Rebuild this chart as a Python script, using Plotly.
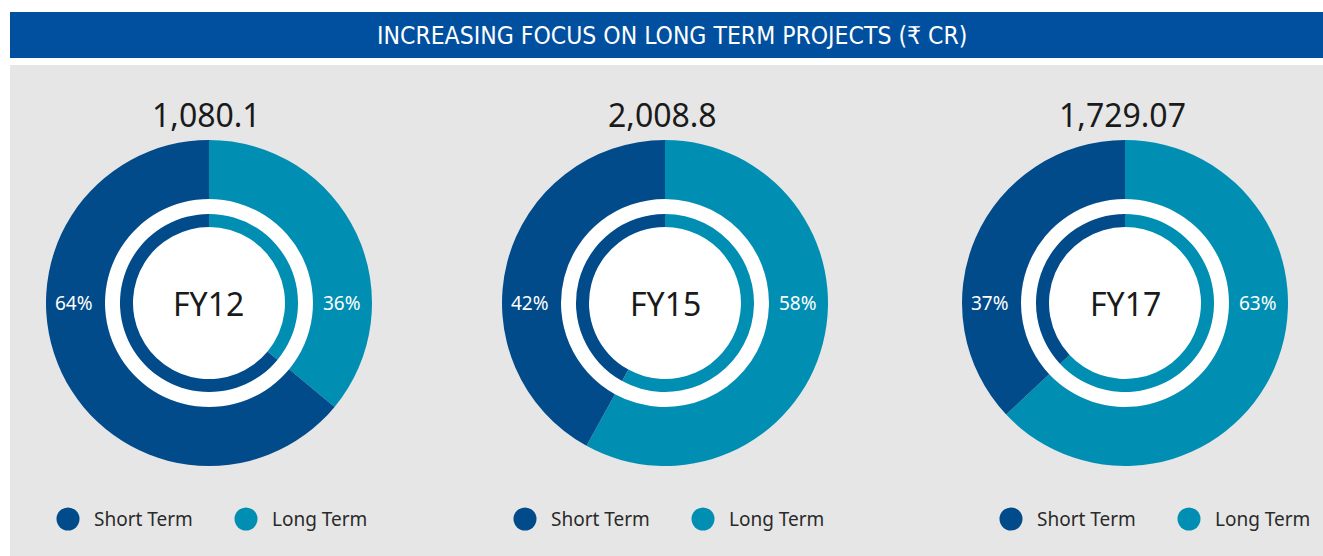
import plotly.graph_objects as go

# ---- data ----
years = ["FY12", "FY15", "FY17"]
totals = ["1,080.1", "2,008.8", "1,729.07"]
short_term = [64, 42, 37]
long_term = [36, 58, 63]
series_names = ["Long Term", "Short Term"]
title_text = "INCREASING FOCUS ON LONG TERM PROJECTS (₹ CR)"

# ---- styling ----
W, H = 1323, 556
DARK = "#014B8B"
TEAL = "#008FB2"
GRAY = "#E6E6E6"
BAR = "#00509F"
FONT = "Noto Sans"

centers_x = [209, 665, 1125]
legend_x = [68, 525, 1011]
cy = 303
R_OUT, R_HOLE = 163, 104
R_IN, R_IN_HOLE = 89, 76


def px(x):
    return x / W


def py(y):
    return 1 - y / H


fig = go.Figure()
shapes = []
annotations = []

# background panel and title bar
shapes.append(dict(type="rect", xref="paper", yref="paper", x0=px(10), x1=1, y0=0, y1=py(65),
                   fillcolor=GRAY, line_width=0, layer="below"))
shapes.append(dict(type="rect", xref="paper", yref="paper", x0=px(10), x1=1, y0=py(58), y1=py(12),
                   fillcolor=BAR, line_width=0, layer="below"))
annotations.append(dict(text=title_text, xref="paper", yref="paper", x=px(672), y=py(35),
                        showarrow=False, xanchor="center", yanchor="middle",
                        font=dict(family="Liberation Sans Narrow, DejaVu Sans Condensed, sans-serif",
                                  size=24.5, color="white")))

for i, yr in enumerate(years):
    cx = centers_x[i]
    vals = [long_term[i], short_term[i]]
    # white disc behind the inner area
    shapes.append(dict(type="circle", xref="paper", yref="paper",
                       x0=px(cx - R_HOLE), x1=px(cx + R_HOLE), y0=py(cy + R_HOLE), y1=py(cy - R_HOLE),
                       fillcolor="white", line_width=0, layer="below"))
    for r, hole in [(R_OUT, R_HOLE / R_OUT), (R_IN, R_IN_HOLE / R_IN)]:
        fig.add_trace(go.Pie(
            labels=series_names, values=vals, sort=False, direction="clockwise", rotation=0,
            hole=hole, textinfo="none", hoverinfo="label+percent",
            marker=dict(colors=[TEAL, DARK], line=dict(width=0)),
            domain=dict(x=[px(cx - r), px(cx + r)], y=[py(cy + r), py(cy - r)]),
            showlegend=False))
    # total
    annotations.append(dict(text=totals[i], xref="paper", yref="paper", x=px(cx - 3), y=py(114),
                            showarrow=False, xanchor="center", yanchor="middle",
                            font=dict(family=FONT, size=32, color="#1A1A1A")))
    # centre label
    annotations.append(dict(text=yr, xref="paper", yref="paper", x=px(cx), y=py(cy),
                            showarrow=False, xanchor="center", yanchor="middle",
                            font=dict(family=FONT, size=32, color="#1A1A1A")))
    # percent labels
    annotations.append(dict(text=f"{short_term[i]}%", xref="paper", yref="paper", x=px(cx - 135), y=py(cy),
                            showarrow=False, xanchor="center", yanchor="middle",
                            font=dict(family=FONT, size=19, color="white")))
    annotations.append(dict(text=f"{long_term[i]}%", xref="paper", yref="paper", x=px(cx + 133), y=py(cy),
                            showarrow=False, xanchor="center", yanchor="middle",
                            font=dict(family=FONT, size=19, color="white")))
    # legend
    lx = legend_x[i]
    for j, (name, col) in enumerate([("Short Term", DARK), ("Long Term", TEAL)]):
        mx = lx + j * 178
        shapes.append(dict(type="circle", xref="paper", yref="paper",
                           x0=px(mx - 11.5), x1=px(mx + 11.5), y0=py(519 + 11.5), y1=py(519 - 11.5),
                           fillcolor=col, line_width=0, layer="below"))
        annotations.append(dict(text=name, xref="paper", yref="paper", x=px(mx + 24), y=py(519),
                                showarrow=False, xanchor="left", yanchor="middle",
                                font=dict(family=FONT, size=19, color="#2A2A2A")))

fig.update_layout(width=W, height=H, margin=dict(l=0, r=0, t=0, b=0),
                  paper_bgcolor="white", plot_bgcolor="white",
                  shapes=shapes, annotations=annotations, showlegend=False)

fig.write_html("out.html", config={"displayModeBar": False},
               post_script="document.body.style.margin='0px';document.body.style.overflow='hidden';")
